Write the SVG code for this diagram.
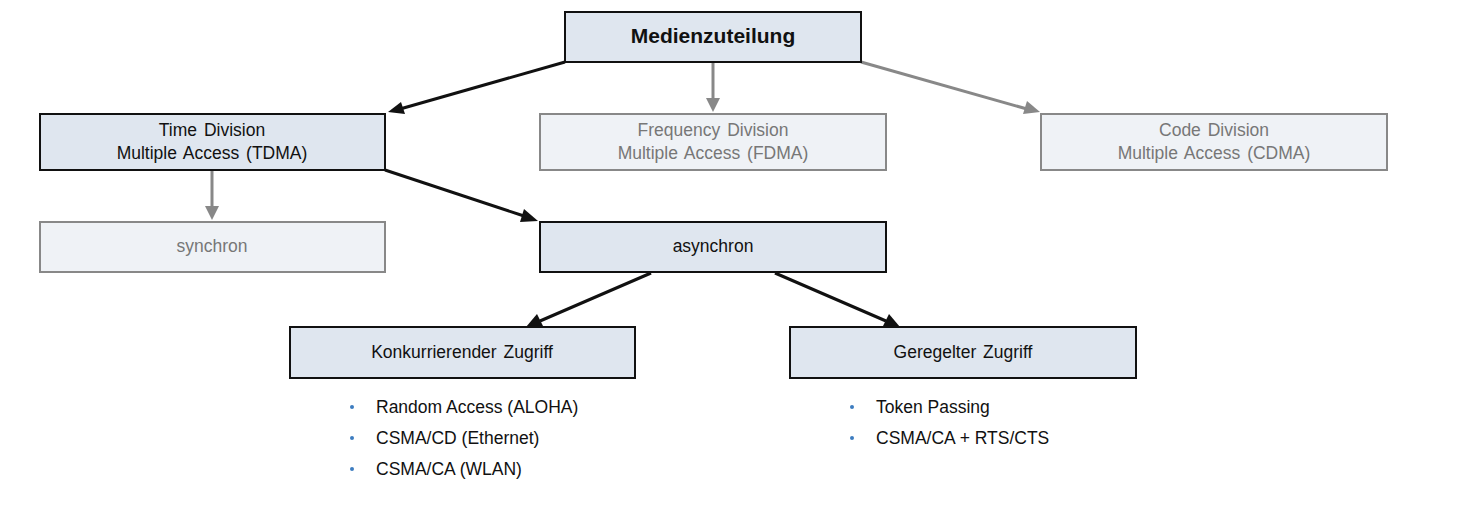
<svg xmlns="http://www.w3.org/2000/svg" width="1484" height="524" viewBox="0 0 1484 524">
<defs>
<style>
.box{fill:#dfe6ef;stroke:#111;stroke-width:2}
.gbox{fill:#eff2f6;stroke:#888;stroke-width:2}
.t{font-family:"Liberation Sans",Arial,sans-serif;font-size:17.5px;fill:#111;text-anchor:middle;word-spacing:2px}
.gt{font-family:"Liberation Sans",Arial,sans-serif;font-size:17.5px;fill:#777;text-anchor:middle;word-spacing:2px}
.b{font-family:"Liberation Sans",Arial,sans-serif;font-size:17.5px;fill:#111}
.dot{fill:#3d7cc0}
.ca{stroke:#111;stroke-width:3;fill:none}
.cg{stroke:#888;stroke-width:3;fill:none}
</style>
</defs>
<g id="connectors">
<line class="ca" x1="565" y1="62" x2="400" y2="109"/>
<polygon points="388,112 401,102 405,114" fill="#111"/>
<line class="cg" x1="713" y1="62" x2="713" y2="100"/>
<polygon points="706,98 720,98 713,112" fill="#888"/>
<line class="cg" x1="861" y1="62" x2="1027" y2="109"/>
<polygon points="1040,112 1023,114 1027,101" fill="#888"/>
<line class="cg" x1="212" y1="170" x2="212" y2="208"/>
<polygon points="205,206 219,206 212,220" fill="#888"/>
<line class="ca" x1="385" y1="170" x2="524" y2="216"/>
<polygon points="538,221 520,222 524,209" fill="#111"/>
<line class="ca" x1="651" y1="273" x2="540" y2="321"/>
<polygon points="526,327 537,314 543,326" fill="#111"/>
<line class="ca" x1="775" y1="273" x2="886" y2="321"/>
<polygon points="900,327 883,326 889,314" fill="#111"/>
</g>
<g id="n-medien"><rect class="box" x="565" y="12" width="296" height="50"/><text x="713" y="43" class="t" style="font-size:21px;font-weight:bold">Medienzuteilung</text></g>
<g id="n-tdma"><rect class="box" x="40" y="114" width="345" height="56"/><text x="212" y="136" class="t">Time Division</text><text x="212" y="159" class="t">Multiple Access (TDMA)</text></g>
<g id="n-fdma"><rect class="gbox" x="540" y="114" width="346" height="56"/><text x="713" y="136" class="gt">Frequency Division</text><text x="713" y="159" class="gt">Multiple Access (FDMA)</text></g>
<g id="n-cdma"><rect class="gbox" x="1041" y="114" width="346" height="56"/><text x="1214" y="136" class="gt">Code Division</text><text x="1214" y="159" class="gt">Multiple Access (CDMA)</text></g>
<g id="n-synchron"><rect class="gbox" x="40" y="222" width="345" height="50"/><text x="212" y="252" class="gt">synchron</text></g>
<g id="n-asynchron"><rect class="box" x="540" y="222" width="346" height="50"/><text x="713" y="252" class="t">asynchron</text></g>
<g id="n-konk"><rect class="box" x="290" y="327" width="345" height="51"/><text x="462" y="358" class="t">Konkurrierender Zugriff</text></g>
<g id="n-geregelt"><rect class="box" x="790" y="327" width="346" height="51"/><text x="963" y="358" class="t">Geregelter Zugriff</text></g>
<g id="list-konk">
<circle class="dot" cx="352" cy="407" r="2"/><text class="b" x="376" y="413">Random Access (ALOHA)</text>
<circle class="dot" cx="352" cy="438" r="2"/><text class="b" x="376" y="444">CSMA/CD (Ethernet)</text>
<circle class="dot" cx="352" cy="469" r="2"/><text class="b" x="376" y="475">CSMA/CA (WLAN)</text>
</g>
<g id="list-geregelt">
<circle class="dot" cx="852" cy="407" r="2"/><text class="b" x="876" y="413">Token Passing</text>
<circle class="dot" cx="852" cy="438" r="2"/><text class="b" x="876" y="444">CSMA/CA + RTS/CTS</text>
</g>
</svg>
